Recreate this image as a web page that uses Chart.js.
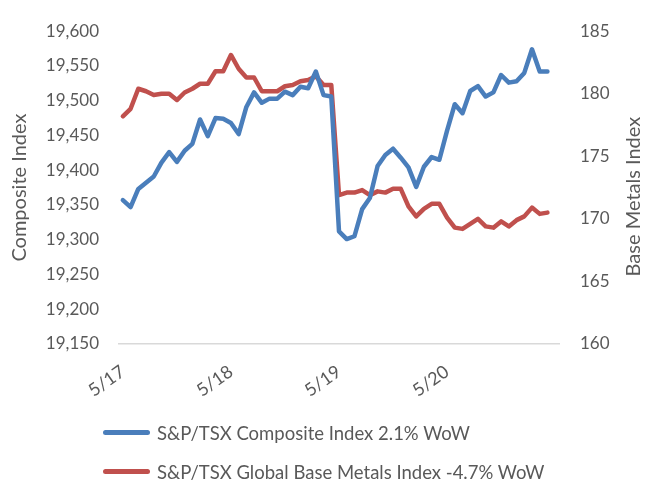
<!DOCTYPE html>
<html>
<head>
<meta charset="utf-8">
<script src="https://cdn.jsdelivr.net/npm/chart.js@4.4.1/dist/chart.umd.min.js"></script>
<style>
  html, body { margin: 0; padding: 0; background: #fff; }
  #wrap { position: relative; width: 654px; height: 485px; }
  #legend { position: absolute; left: 103px; top: 413px; font-family: Lato, sans-serif; font-size: 18.5px; color: #595959; }
  .item { display: flex; align-items: center; height: 39px; }
  .swatch { width: 47px; height: 5px; border-radius: 3px; margin-right: 7px; }
</style>
</head>
<body>
<div id="wrap">
  <canvas id="chart" width="654" height="485"></canvas>
  <div id="legend"></div>
</div>
<script>
// category axis: 14 intraday points per day, label on the first point of each day
var dayLabels = ['5/17', '5/18', '5/19', '5/20'];
var pointsPerDay = 14;
var slots = 57;

var composite = [
  19357, 19347, 19373, 19382, 19391, 19411, 19426, 19412, 19428, 19438, 19473, 19449, 19475, 19474,
  19468, 19452, 19491, 19512, 19497, 19503, 19503, 19513, 19508, 19520, 19518, 19542, 19508, 19506,
  19312, 19301, 19305, 19344, 19360, 19406, 19422, 19431, 19418, 19404, 19376, 19405, 19419, 19415,
  19457, 19495, 19482, 19514, 19521, 19506, 19512, 19537, 19526, 19528, 19540, 19574, 19542, 19542
];
var baseMetals = [
  178.2, 178.8, 180.4, 180.2, 179.9, 180.0, 180.0, 179.5, 180.1, 180.4, 180.8, 180.8, 181.8, 181.8,
  183.1, 182.0, 181.3, 181.3, 180.2, 180.2, 180.2, 180.6, 180.7, 181.0, 181.1, 181.4, 180.7, 180.7,
  171.9, 172.1, 172.1, 172.3, 171.9, 172.2, 172.1, 172.4, 172.4, 171.0, 170.2, 170.8, 171.2, 171.2,
  170.1, 169.3, 169.2, 169.6, 170.0, 169.4, 169.3, 169.8, 169.4, 169.9, 170.2, 170.9, 170.4, 170.5
];
var seriesNames = [
  'S&P/TSX Composite Index 2.1% WoW',
  'S&P/TSX Global Base Metals Index -4.7% WoW'
];
var seriesColors = ['#4a7ebb', '#c0504d'];
var axisTitles = ['Composite Index', 'Base Metals Index'];

var labels = [];
for (var i = 0; i < slots; i++) {
  labels.push(i % pointsPerDay === 0 ? (dayLabels[i / pointsPerDay] || '') : '');
}

var grey = '#595959';
var font = { family: 'Lato, sans-serif', size: 17 };
var titleFont = { family: 'Lato, sans-serif', size: 20 };

// chart.js turns a right-hand title clockwise; the original reads bottom-to-top on both sides
var rightTitle = {
  id: 'rightTitle',
  afterDraw: function(chart) {
    var c = chart.ctx;
    var area = chart.chartArea;
    c.save();
    c.translate(634, (area.top + area.bottom) / 2 + 9);
    c.rotate(-Math.PI / 2);
    c.fillStyle = grey;
    c.font = titleFont.size + 'px ' + titleFont.family;
    c.textAlign = 'center';
    c.textBaseline = 'middle';
    c.fillText(axisTitles[1], 0, 0);
    c.restore();
  }
};

var ctx = document.getElementById('chart').getContext('2d');
var chart = new Chart(ctx, {
  type: 'line',
  data: {
    labels: labels,
    datasets: [
      {
        label: seriesNames[0],
        data: composite,
        yAxisID: 'y',
        borderColor: seriesColors[0],
        backgroundColor: seriesColors[0],
        borderWidth: 4.5,
        pointRadius: 0,
        tension: 0,
        borderCapStyle: 'round',
        borderJoinStyle: 'round'
      },
      {
        label: seriesNames[1],
        data: baseMetals,
        yAxisID: 'y1',
        borderColor: seriesColors[1],
        backgroundColor: seriesColors[1],
        borderWidth: 4.5,
        pointRadius: 0,
        tension: 0,
        borderCapStyle: 'round',
        borderJoinStyle: 'round'
      }
    ]
  },
  options: {
    responsive: false,
    animation: false,
    layout: { padding: { top: 18, left: 0, right: 0, bottom: 0 } },
    plugins: {
      legend: { display: false },
      tooltip: { enabled: false }
    },
    scales: {
      x: {
        offset: true,
        grid: { display: false, drawTicks: false },
        border: { display: true, color: '#d9d9d9', width: 1.5 },
        ticks: {
          autoSkip: false,
          maxRotation: 35,
          minRotation: 35,
          padding: 17,
          color: grey,
          font: { family: 'Lato, sans-serif', size: 18 }
        },
        afterFit: function(scale) { scale.height = 141; }
      },
      y: {
        position: 'left',
        min: 19150,
        max: 19600,
        grid: { display: false, drawTicks: false },
        border: { display: false },
        ticks: {
          stepSize: 50,
          padding: 20,
          color: grey,
          font: font,
          callback: function(v) { return v.toLocaleString('en-US'); }
        },
        title: { display: true, text: axisTitles[0], color: grey, font: titleFont, padding: { top: 8, bottom: 4 } },
        afterFit: function(scale) { scale.width = 119; }
      },
      y1: {
        position: 'right',
        min: 160,
        max: 185,
        grid: { display: false, drawTicks: false },
        border: { display: false },
        ticks: {
          stepSize: 5,
          padding: 21,
          color: grey,
          font: font
        },
        afterFit: function(scale) { scale.width = 95; }
      }
    }
  },
  plugins: [rightTitle]
});

// legend stacked one series per row, as in the original
var legend = document.getElementById('legend');
chart.data.datasets.forEach(function(ds) {
  var row = document.createElement('div');
  row.className = 'item';
  var sw = document.createElement('span');
  sw.className = 'swatch';
  sw.style.background = ds.borderColor;
  var txt = document.createElement('span');
  txt.textContent = ds.label;
  row.appendChild(sw);
  row.appendChild(txt);
  legend.appendChild(row);
});
</script>
</body>
</html>
